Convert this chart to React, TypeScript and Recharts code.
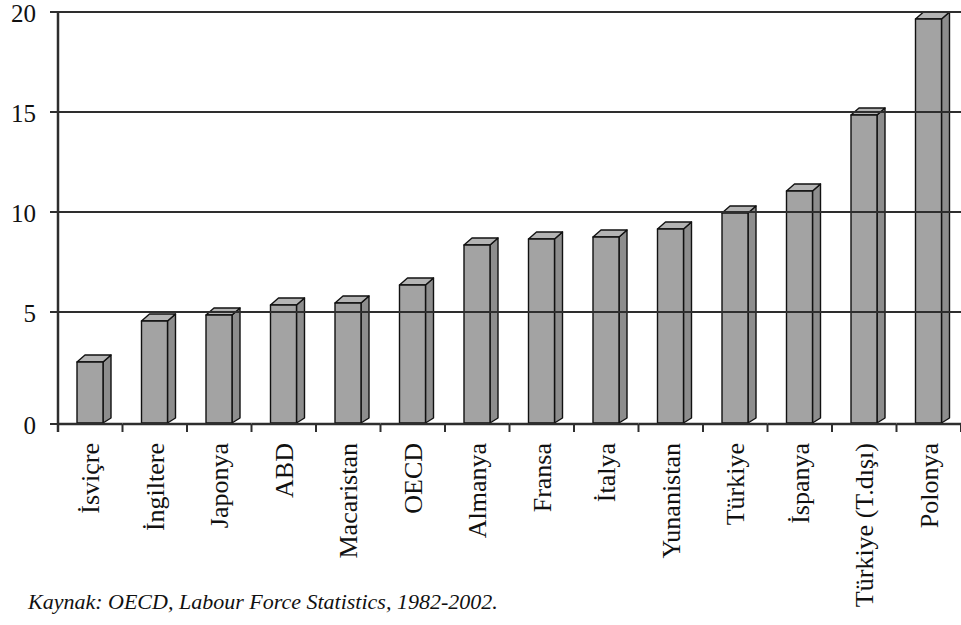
import { BarChart, Bar, XAxis, YAxis, ReferenceLine } from "recharts";

const countries = [
  "İsviçre",
  "İngiltere",
  "Japonya",
  "ABD",
  "Macaristan",
  "OECD",
  "Almanya",
  "Fransa",
  "İtalya",
  "Yunanistan",
  "Türkiye",
  "İspanya",
  "Türkiye (T.dışı)",
  "Polonya",
];
const rates = [2.85, 4.9, 5.2, 5.7, 5.8, 6.7, 8.7, 9.0, 9.1, 9.5, 10.3, 11.4, 15.2, 20.0];
const yTicks = [0, 5, 10, 15, 20];
const gridValues = [5, 10, 15, 20];

const data = countries.map((name, i) => ({ name, value: rates[i] }));

const W = 961;
const H = 625;
const AXIS_X = 58;
const PLOT_TOP = 12;
const PLOT_BOTTOM = 412;
const FLOOR_Y = 424;
const DX = 8;
const DY = 7;
const INK = "#2e2e2e";
const FONT = '"Liberation Serif", "Times New Roman", serif';

// 3d-looking column: front face, right side and top
function Column3D(props: any) {
  const { x, y, width, height } = props;
  if (height == null || width == null) return null;
  const ft = y + DY;
  const fb = y + height + (FLOOR_Y - PLOT_BOTTOM) - 1;
  const r = x + width;
  return (
    <g stroke="#111" strokeWidth={1.4} strokeLinejoin="round">
      <polygon
        points={`${r},${ft} ${r + DX},${ft - DY} ${r + DX},${fb - DY + 2} ${r},${fb}`}
        fill="#8d8d8d"
      />
      <polygon
        points={`${x},${ft} ${x + DX},${ft - DY} ${r + DX},${ft - DY} ${r},${ft}`}
        fill="#b4b4b4"
      />
      <rect x={x} y={ft} width={width} height={fb - ft} fill="#a3a3a3" />
    </g>
  );
}

function CountryTick(props: any) {
  const { x, payload, index } = props;
  const band = (W - AXIS_X) / countries.length;
  const left = x - band / 2;
  const right = x + band / 2;
  return (
    <g>
      <line x1={left} x2={right} y1={FLOOR_Y} y2={FLOOR_Y} stroke={INK} strokeWidth={2.5} />
      <line x1={right} x2={right} y1={FLOOR_Y} y2={FLOOR_Y + 8} stroke={INK} strokeWidth={2} />
      {index === 0 && (
        <line x1={left} x2={left} y1={PLOT_BOTTOM} y2={FLOOR_Y + 8} stroke={INK} strokeWidth={2.5} />
      )}
      <text
        transform={`translate(${x + 9},${FLOOR_Y + 19}) rotate(-90)`}
        textAnchor="end"
        fontFamily={FONT}
        fontSize={26}
        fill="#111"
      >
        {payload.value}
      </text>
    </g>
  );
}

function ValueTick(props: any) {
  const { y, payload } = props;
  const yy = payload.value === 0 ? FLOOR_Y : y;
  return (
    <g>
      <line x1={AXIS_X - 8} x2={AXIS_X} y1={yy} y2={yy} stroke={INK} strokeWidth={2} />
      <text
        x={AXIS_X - 22}
        y={yy + 10}
        textAnchor="end"
        fontFamily={FONT}
        fontSize={25}
        fill="#111"
      >
        {payload.value}
      </text>
    </g>
  );
}

export default function App() {
  return (
    <div style={{ position: "absolute", left: 0, top: 0, width: W, height: H, background: "#fff" }}>
      <BarChart
        width={W}
        height={H}
        data={data}
        margin={{ top: PLOT_TOP, right: 0, bottom: 0, left: 0 }}
      >
        <XAxis
          dataKey="name"
          interval={0}
          height={H - PLOT_BOTTOM}
          axisLine={false}
          tickLine={false}
          tick={<CountryTick />}
        />
        <YAxis
          width={AXIS_X}
          domain={[0, 20]}
          ticks={yTicks}
          interval={0}
          axisLine={{ stroke: INK, strokeWidth: 2.5 }}
          tickLine={false}
          tick={<ValueTick />}
        />
        {gridValues.map((v) => (
          <ReferenceLine key={v} y={v} stroke={INK} strokeWidth={2} />
        ))}
        <Bar dataKey="value" barSize={26} shape={<Column3D />} isAnimationActive={false} />
      </BarChart>
      <div
        style={{
          position: "absolute",
          left: 28,
          top: 589,
          fontFamily: FONT,
          fontStyle: "italic",
          fontSize: 22,
          color: "#111",
          whiteSpace: "nowrap",
        }}
      >
        Kaynak: OECD, Labour Force Statistics, 1982-2002.
      </div>
    </div>
  );
}
